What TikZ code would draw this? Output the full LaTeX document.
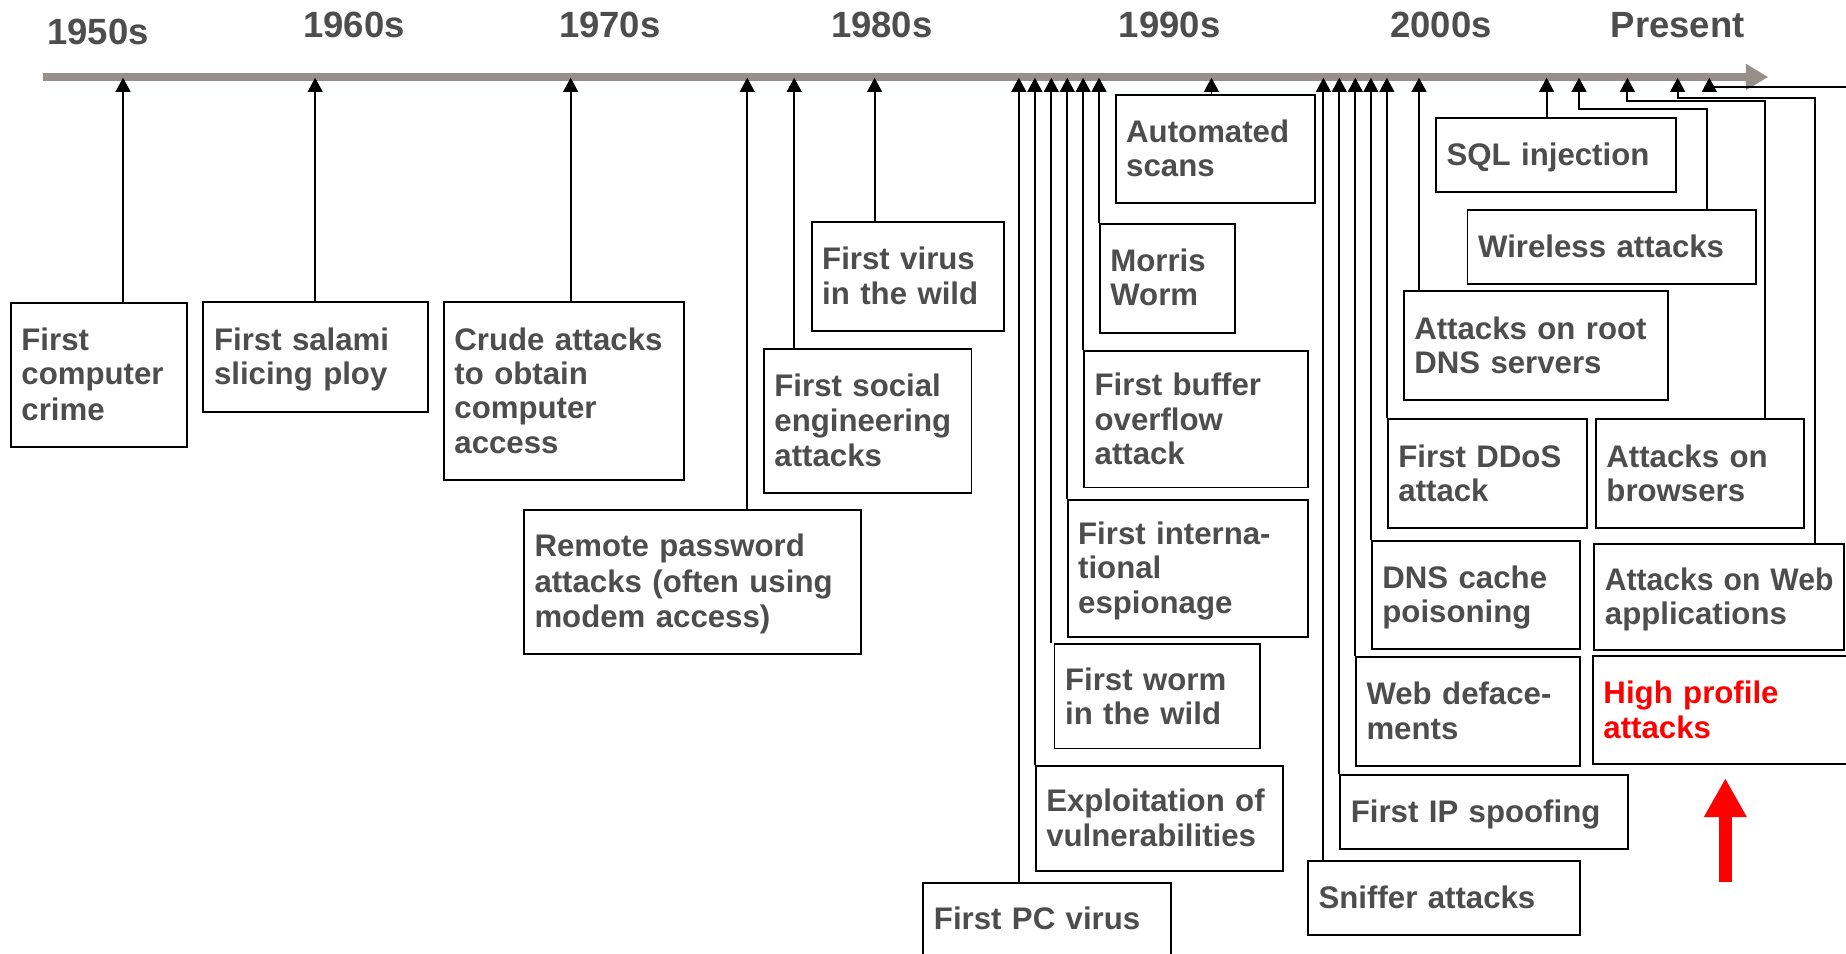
\documentclass[tikz,border=0pt]{standalone}
\usepackage{fontspec}
\usepackage{graphicx}
\setmainfont{Liberation Sans}
\usetikzlibrary{arrows.meta}
\definecolor{tgray}{RGB}{77,77,77}
\definecolor{barc}{RGB}{153,143,138}
\definecolor{hred}{RGB}{255,0,0}
\newcommand\zz{\rule[-0.2em]{0pt}{1.09em}}
\begin{document}
\begin{tikzpicture}[x=1pt,y=-1pt,
  box/.style={draw=black, line width=1.6pt, anchor=north west, inner xsep=9pt, inner ysep=0pt,
    align=left, text=tgray, font=\fontsize{26.5}{29}\selectfont\bfseries},
  redbox/.style={box, text=hred},
  conn/.style={draw=black, line width=1.6pt, -{Triangle[length=12pt,width=12.5pt]}},
  yr/.style={text=tgray, inner sep=0pt, font=\fontsize{31}{36}\selectfont\bfseries},
  timebar/.style={draw=barc, line width=6.5pt, -{Triangle[length=19pt,width=21pt]}},
  bigarrow/.style={draw=hred, line width=11pt, -{Triangle[length=33pt,width=34pt]}}
  ]
\useasboundingbox (0,0) rectangle (1568,810);
\clip (0,0) rectangle (1568,810);

% decade labels
\node[yr] (y50) at (83.3,27) {1950s};
\node[yr] (y60) at (300.6,21) {1960s};
\node[yr] (y70) at (518,21) {1970s};
\node[yr] (y80) at (749,21) {1980s};
\node[yr] (y90) at (993.5,21) {1990s};
\node[yr] (y00) at (1224,21) {2000s};
\node[yr] (ypr) at (1425,21) {Present};

% time bar
\coordinate (barL) at (36.3,65.4);
\coordinate (barR) at (1502,65.4);
\draw[timebar] (barL) -- (barR);

% boxes
\node[box, text width=131.4pt, minimum height=122.4pt] (b1) at (8.4,256.2) {\zz First\\\zz computer\\\zz crime};
\node[box, text width=172.7pt, minimum height=92.8pt] (b2) at (172,256) {\zz First salami\\\zz slicing ploy};
\node[box, text width=186pt, minimum height=151.5pt] (b3) at (376.2,255.7) {\zz Crude attacks\\\zz to obtain\\\zz computer\\\zz access};
\node[box, text width=268pt, minimum height=122.1pt] (b4) at (444.2,432.3) {\zz Remote password\\\zz attacks (often using\\\zz modem access)};
\node[box, text width=158.4pt, minimum height=121.7pt] (b5) at (648,295.9) {\zz First social\\\zz engineering\\\zz attacks};
\node[box, text width=145.4pt, minimum height=92.9pt] (b6) at (688.6,187.4) {\zz First virus\\\zz in the wild};
\node[box, text width=151.2pt, minimum height=92.1pt] (b7) at (946.8,79.8) {\zz Automated\\\zz scans};
\node[box, text width=96.9pt, minimum height=92.6pt] (b8) at (933.3,189.1) {\zz Morris\\\zz Worm};
\node[box, text width=172pt, minimum height=116pt] (b9) at (920,297.3) {\zz First buffer\\\zz overflow\\\zz attack};
\node[box, text width=186pt, minimum height=116pt] (b10) at (906,424) {\zz First interna-\\\zz tional\\\zz espionage};
\node[box, text width=156.5pt, minimum height=88.6pt] (b11) at (894.9,546.4) {\zz First worm\\\zz in the wild};
\node[box, text width=192.1pt, minimum height=89.2pt] (b12) at (878.9,649.8) {\zz Exploitation of\\\zz vulnerabilities};
\node[box, text width=192.2pt, minimum height=62pt] (b13) at (783.5,748.9) {\zz First PC virus};
\node[box, text width=185.8pt, minimum height=63.1pt] (b14) at (1218.9,99.1) {\zz SQL injection};
\node[box, text width=227pt, minimum height=62.8pt] (b15) at (1245.7,177.7) {\zz Wireless attacks};
\node[box, text width=206.6pt, minimum height=92.6pt] (b16) at (1191.5,246.5) {\zz Attacks on root\\\zz DNS servers};
\node[box, text width=151.5pt, minimum height=92.5pt] (b17) at (1178,355) {\zz First DDoS\\\zz attack};
\node[box, text width=158.9pt, minimum height=92.3pt] (b18) at (1354.7,355.3) {\zz Attacks on\\\zz browsers};
\node[box, text width=158.8pt, minimum height=92pt] (b19) at (1164.4,458.7) {\zz DNS cache\\\zz poisoning};
\node[box, text width=194.2pt, minimum height=90.3pt] (b20) at (1353.4,461.2) {\zz\scalebox{0.965}[1]{Attacks on Web}\\\zz applications};
\node[box, text width=172.2pt, minimum height=92.9pt] (b21) at (1150.9,556.9) {\zz Web deface-\\\zz ments};
\node[redbox, text width=222pt, minimum height=92pt] (b22) at (1352.2,556.4) {\zz High profile\\\zz attacks};
\node[box, text width=226.4pt, minimum height=62.6pt] (b23) at (1137.6,657.4) {\zz First IP spoofing};
\node[box, text width=213pt, minimum height=62.8pt] (b24) at (1110.2,730.5) {\zz Sniffer attacks};

% arrow tips on the bar
\coordinate (a1) at (104.5,66);
\coordinate (a2) at (267.7,66);
\coordinate (a3) at (484.7,66);
\coordinate (a4) at (634.7,66);
\coordinate (a5) at (674.6,66);
\coordinate (a6) at (742.9,66);
\coordinate (a13) at (865.4,66);
\coordinate (a12) at (879,66);
\coordinate (a11) at (893,66);
\coordinate (a10) at (906.5,66);
\coordinate (a9) at (920,66);
\coordinate (a8) at (933.5,66);
\coordinate (a7) at (1029,66);
\coordinate (a24) at (1124.1,66);
\coordinate (a23) at (1137.6,66);
\coordinate (a21) at (1151.2,66);
\coordinate (a19) at (1164.4,66);
\coordinate (a17) at (1178,66);
\coordinate (a16) at (1205.3,66);
\coordinate (a14) at (1313.7,66);
\coordinate (a15) at (1341.2,66);
\coordinate (a18) at (1382.3,66);
\coordinate (a20) at (1425,66);
\coordinate (a25) at (1451.9,66);

% bend points
\coordinate (k15) at (1449.6,92.5);
\coordinate (k18) at (1499.2,86);
\coordinate (k20) at (1541.7,83);
\coordinate (offR) at (1580,73.6);

% connectors
\draw[conn] (b1.north -| a1) -- (a1);
\draw[conn] (b2.north -| a2) -- (a2);
\draw[conn] (b3.north -| a3) -- (a3);
\draw[conn] (b4.north -| a4) -- (a4);
\draw[conn] (b5.north -| a5) -- (a5);
\draw[conn] (b6.north -| a6) -- (a6);
\draw[conn] (b13.north -| a13) -- (a13);
\draw[conn] (b12.north -| a12) -- (a12);
\draw[conn] (b11.north -| a11) -- (a11);
\draw[conn] (b10.north -| a10) -- (a10);
\draw[conn] (b9.north -| a9) -- (a9);
\draw[conn] (b8.north -| a8) -- (a8);
\draw[conn] (b7.north -| a7) -- (a7);
\draw[conn] (b24.north -| a24) -- (a24);
\draw[conn] (b23.north -| a23) -- (a23);
\draw[conn] (b21.north -| a21) -- (a21);
\draw[conn] (b19.north -| a19) -- (a19);
\draw[conn] (b17.north -| a17) -- (a17);
\draw[conn] (b16.north -| a16) -- (a16);
\draw[conn] (b14.north -| a14) -- (a14);
\draw[conn] (b15.north -| k15) -- (k15) -- (k15 -| a15) -- (a15);
\draw[conn] (b18.north -| k18) -- (k18) -- (k18 -| a18) -- (a18);
\draw[conn] (b20.north -| k20) -- (k20) -- (k20 -| a20) -- (a20);
\draw[conn] (offR) -- (offR -| a25) -- (a25);

% red arrow
\coordinate (r1) at (1465.5,749);
\coordinate (r2) at (1465.5,661);
\draw[bigarrow] (r1) -- (r2);
\end{tikzpicture}
\end{document}
